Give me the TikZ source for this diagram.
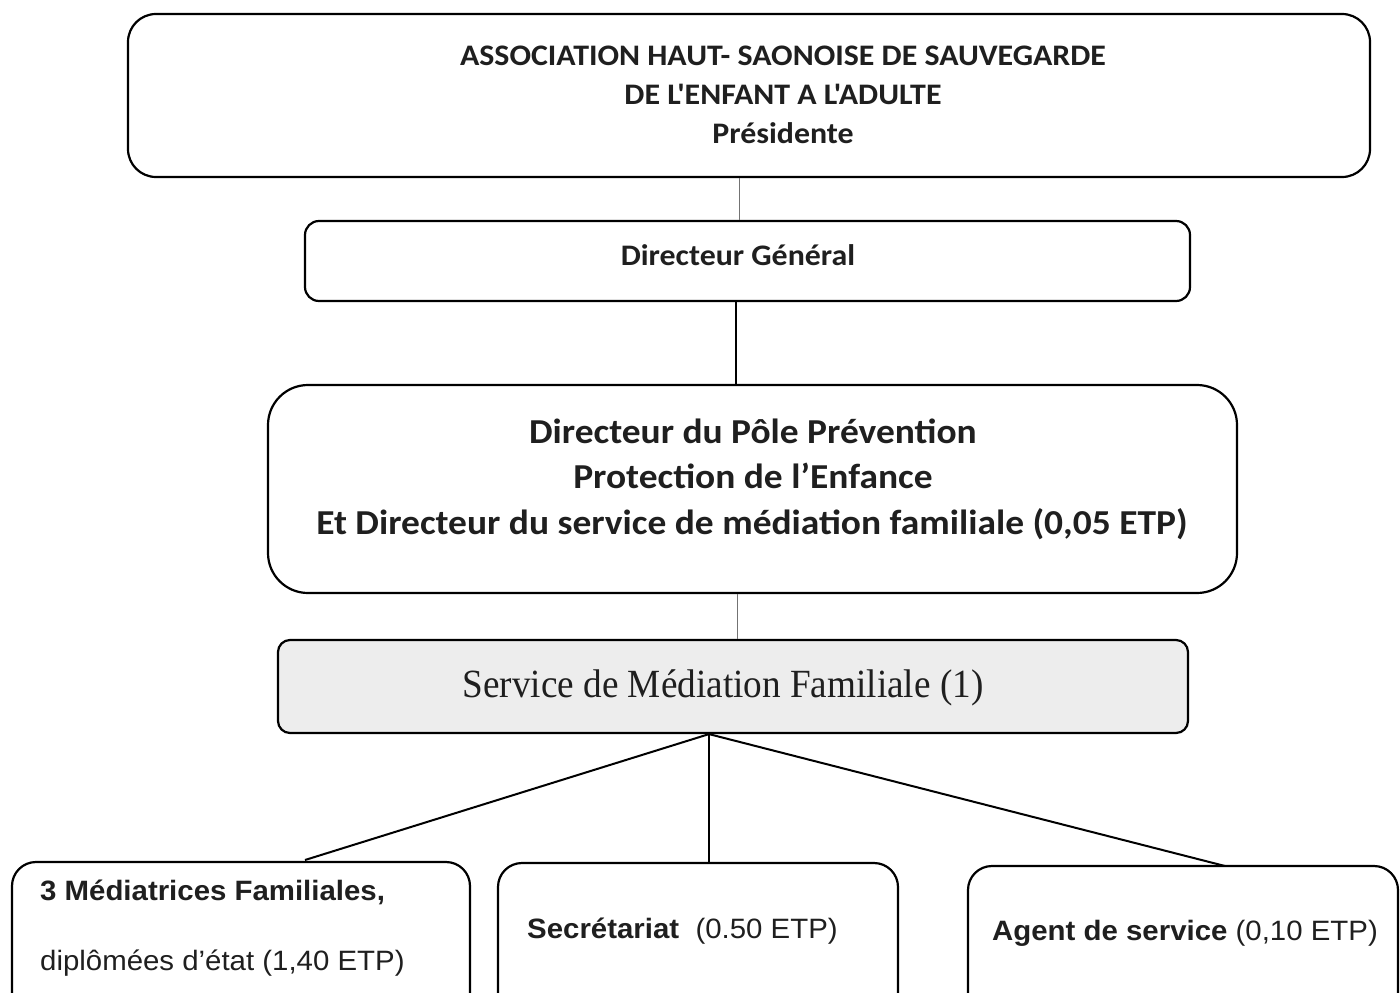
\documentclass[tikz,border=0pt]{standalone}
\usepackage{fontspec}
\newfontfamily\calfont{Carlito}[FakeStretch=1.07]
\newfontfamily\timesfont{Liberation Serif}[FakeStretch=0.93]
\newfontfamily\arialfont{Liberation Sans}[FakeStretch=1.05]
\begin{document}
\begin{tikzpicture}[x=1pt,y=-1pt,
  box/.style={draw=black, line width=2.2pt, inner sep=0pt, fill=white},
  thin/.style={draw=black!55, line width=1pt},
  thick/.style={draw=black, line width=2pt},
  txt/.style={anchor=base, inner sep=0pt, text=black!88}]
\clip (0,0) rectangle (1400,993);
\fill[white] (0,0) rectangle (1400,993);
% boxes
\node[box, rounded corners=28pt, minimum width=1242pt, minimum height=163pt] (top) at (749,95.5) {};
\node[box, rounded corners=14pt, minimum width=885pt, minimum height=80pt] (dg) at (747.5,261) {};
\node[box, rounded corners=40pt, minimum width=969pt, minimum height=208pt] (pole) at (752.5,489) {};
\node[box, rounded corners=12pt, minimum width=910pt, minimum height=93pt, fill=black!7] (smf) at (733,686.5) {};
\node[box, rounded corners=24pt, minimum width=458pt, minimum height=180pt] (med) at (241,952) {};
\node[box, rounded corners=24pt, minimum width=400pt, minimum height=180pt] (sec) at (698,953) {};
\node[box, rounded corners=24pt, minimum width=430pt, minimum height=180pt] (agt) at (1183,956) {};
% texts
\node[txt, font=\calfont\bfseries\fontsize{29.8}{33}\selectfont] (t1) at (783,65) {ASSOCIATION HAUT- SAONOISE DE SAUVEGARDE};
\node[txt, font=\calfont\bfseries\fontsize{29.8}{33}\selectfont] (t2) at (783,104) {DE L'ENFANT A L'ADULTE};
\node[txt, font=\calfont\bfseries\fontsize{29.8}{33}\selectfont] (t3) at (783,143) {Présidente};
\node[txt, font=\calfont\bfseries\fontsize{29.8}{33}\selectfont] (t4) at (738,265) {Directeur Général};
\node[txt, font=\calfont\bfseries\fontsize{35}{38}\selectfont] (t5) at (753,443) {Directeur du Pôle Prévention};
\node[txt, font=\calfont\bfseries\fontsize{35}{38}\selectfont] (t6) at (753,488) {Protection de l’Enfance};
\node[txt, font=\calfont\bfseries\fontsize{35}{38}\selectfont] (t7) at (752,534) {Et Directeur du service de médiation familiale (0,05 ETP)};
\node[txt, font=\timesfont\fontsize{40}{43}\selectfont] (t8) at (723,697) {Service de Médiation Familiale (1)};
\node[txt, anchor=base west, font=\arialfont\fontsize{28}{30}\selectfont] (t9) at (40,900) {\bfseries 3 Médiatrices Familiales,};
\node[txt, anchor=base west, font=\arialfont\fontsize{28}{30}\selectfont] (t10) at (40,970) {diplômées d’état (1,40 ETP)};
\node[txt, anchor=base west, font=\arialfont\fontsize{28}{30}\selectfont] (t11) at (527,938) {\bfseries Secrétariat\mdseries\ \ (0.50 ETP)};
\node[txt, anchor=base west, font=\arialfont\fontsize{28}{30}\selectfont] (t12) at (992,940) {\bfseries Agent de service\mdseries\ (0,10 ETP)};
% connectors
\coordinate (x1) at (739,0);
\coordinate (x2) at (736,0);
\coordinate (x3) at (737,0);
\coordinate (x4) at (709,0);
\draw[thin] (top.south -| x1) -- (dg.north -| x1);
\draw[thick] (dg.south -| x2) -- (pole.north -| x2);
\draw[thin] (pole.south -| x3) -- (smf.north -| x3);
\coordinate (fan) at (smf.south -| x4);
\coordinate (e1) at (305,860);
\coordinate (e3) at (1225,866);
\draw[thick] (fan) -- (e1);
\draw[thick] (fan) -- (sec.north -| x4);
\draw[thick] (fan) -- (e3);
\end{tikzpicture}
\end{document}
